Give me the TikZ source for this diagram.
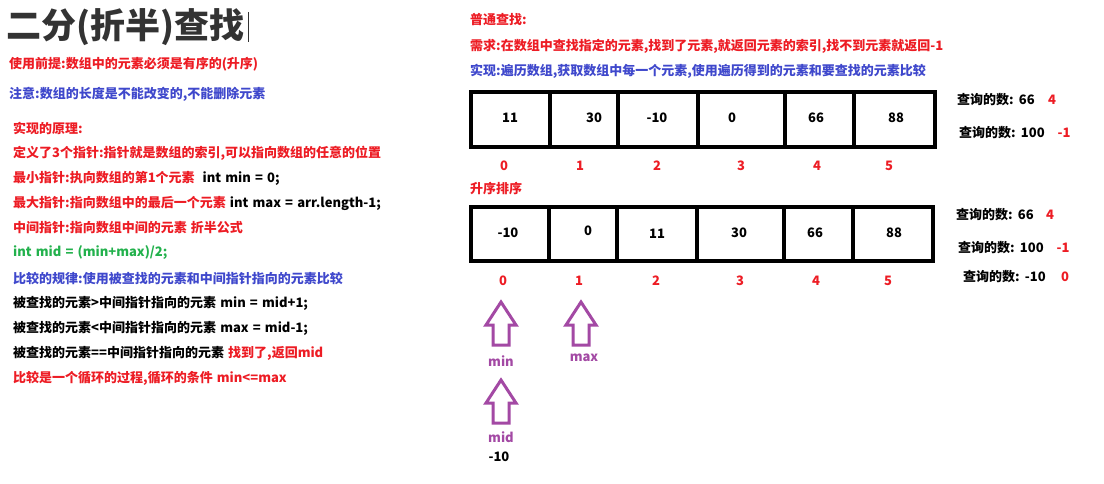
\documentclass[tikz,border=0pt]{standalone}
\usepackage{fontspec}
\setmainfont{Noto Sans CJK SC}[WordSpace={1.4}]
\definecolor{pred}{RGB}{237,28,36}
\definecolor{pblue}{RGB}{63,72,204}
\definecolor{pgreen}{RGB}{34,177,76}
\definecolor{ppurple}{RGB}{163,73,164}
\definecolor{ptitle}{RGB}{51,51,51}
\tikzset{
  txt/.style={anchor=west, inner sep=0pt, font=\bfseries\fontsize{13}{15}\selectfont},
  ctxt/.style={anchor=center, inner sep=0pt, font=\bfseries\fontsize{13}{15}\selectfont},
  arrbox/.style={line width=4pt, black},
  blockup/.pic={\draw[ppurple, line width=3pt, line join=miter]
     (0,0) -- (-15,23) -- (-8,23) -- (-8,43) -- (8,43) -- (8,23) -- (15,23) -- cycle;}
}
\begin{document}
\begin{tikzpicture}[x=1pt, y=-1pt]
\path[use as bounding box, fill=white] (0,0) rectangle (1104,483);

% title
\node[anchor=west, inner sep=0pt, text=ptitle, font=\bfseries\fontsize{35}{39}\selectfont] (title) at (6,27) {二分(折半)查找};
\draw[ptitle, line width=0.8pt] (248,12) -- (248,42);

% left column
\node[txt, text=pred]  (l1)  at (9,64)  {使用前提:数组中的元素必须是有序的(升序)};
\node[txt, text=pblue] (l2)  at (9,94)  {注意:数组的长度是不能改变的,不能删除元素};
\node[txt, text=pred]  (l3)  at (13,128) {实现的原理:};
\node[txt, text=pred]  (l4)  at (13,153) {定义了3个指针:指针就是数组的索引,可以指向数组的任意的位置};
\node[txt, text=pred]  (l5)  at (13,178) {最小指针:执向数组的第1个元素\hspace{8pt}\textcolor{black}{int min = 0;}};
\node[txt, text=pred]  (l6)  at (13,203) {最大指针:指向数组中的最后一个元素 \textcolor{black}{int max = arr.length-1;}};
\node[txt, text=pred]  (l7)  at (13,228) {中间指针:指向数组中间的元素 折半公式};
\node[txt, text=pgreen](l8)  at (13,253) {int mid = (min+max)/2;};
\node[txt, text=pblue] (l9)  at (13,279) {比较的规律:使用被查找的元素和中间指针指向的元素比较};
\node[txt, text=black] (l10) at (13,303) {被查找的元素>中间指针指向的元素 min = mid+1;};
\node[txt, text=black] (l11) at (13,328) {被查找的元素<中间指针指向的元素 max = mid-1;};
\node[txt, text=black] (l12) at (13,353) {被查找的元素==中间指针指向的元素 \textcolor{pred}{找到了,返回mid}};
\node[txt, text=pred]  (l13) at (13,378) {比较是一个循环的过程,循环的条件 min<=max};

% right header
\node[txt, text=pred]  (r1) at (470,20) {普通查找:};
\node[txt, text=pred]  (r2) at (470,46) {需求:在数组中查找指定的元素,找到了元素,就返回元素的索引,找不到元素就返回-1};
\node[txt, text=pblue] (r3) at (470,71) {实现:遍历数组,获取数组中每一个元素,使用遍历得到的元素和要查找的元素比较};

% first array
\draw[arrbox] (471,92) rectangle (935,147);
\draw[arrbox] (550,93) -- (550,147);
\draw[arrbox] (618,93) -- (618,147);
\draw[arrbox] (698,92) -- (698,147);
\draw[arrbox] (785,92) -- (785,147);
\draw[arrbox] (854,92) -- (854,147);
\node[ctxt] (a0) at (510,118) {11};
\node[ctxt] (a1) at (594,118) {30};
\node[ctxt] (a2) at (657,118) {-10};
\node[ctxt] (a3) at (732,118) {0};
\node[ctxt] (a4) at (816,118) {66};
\node[ctxt] (a5) at (896,118) {88};
\foreach \i/\x in {0/504,1/580,2/657,3/741,4/817,5/889}
  \node[ctxt, text=pred] (ai\i) at (\x,166) {\i};

% right labels (first)
\node[txt] (q1) at (957,100) {查询的数: 66};
\node[ctxt, text=pred] (q1r) at (1052,100) {4};
\node[txt] (q2) at (959,133) {查询的数: 100};
\node[ctxt, text=pred] (q2r) at (1064,133) {-1};

% second array
\node[txt, text=pred] (r4) at (470,189) {升序排序};
\draw[arrbox] (471,207) rectangle (933,261);
\draw[arrbox] (549,208) -- (549,261);
\draw[arrbox] (617,208) -- (617,261);
\draw[arrbox] (697,207) -- (697,261);
\draw[arrbox] (784,207) -- (784,261);
\draw[arrbox] (853,207) -- (853,261);
\node[ctxt] (b0) at (508,233) {-10};
\node[ctxt] (b1) at (588,231) {0};
\node[ctxt] (b2) at (657,234) {11};
\node[ctxt] (b3) at (739,233) {30};
\node[ctxt] (b4) at (815,233) {66};
\node[ctxt] (b5) at (894,233) {88};
\foreach \i/\x in {0/503,1/579,2/656,3/740,4/816,5/888}
  \node[ctxt, text=pred] (bi\i) at (\x,281) {\i};

% right labels (second)
\node[txt] (q3) at (956,215) {查询的数: 66};
\node[ctxt, text=pred] (q3r) at (1050,215) {4};
\node[txt] (q4) at (958,248) {查询的数: 100};
\node[ctxt, text=pred] (q4r) at (1063,248) {-1};
\node[txt] (q5) at (963,277) {查询的数: -10};
\node[ctxt, text=pred] (q5r) at (1065,277) {0};

% pointer arrows
\pic at (501,302) {blockup};
\pic at (581,302) {blockup};
\pic at (501,380) {blockup};
\node[ctxt, text=ppurple] (pmin) at (501,361) {min};
\node[ctxt, text=ppurple] (pmax) at (584,358) {max};
\node[ctxt, text=ppurple] (pmid) at (501,437) {mid};
\node[ctxt] (pval) at (499,457) {-10};
\end{tikzpicture}
\end{document}
